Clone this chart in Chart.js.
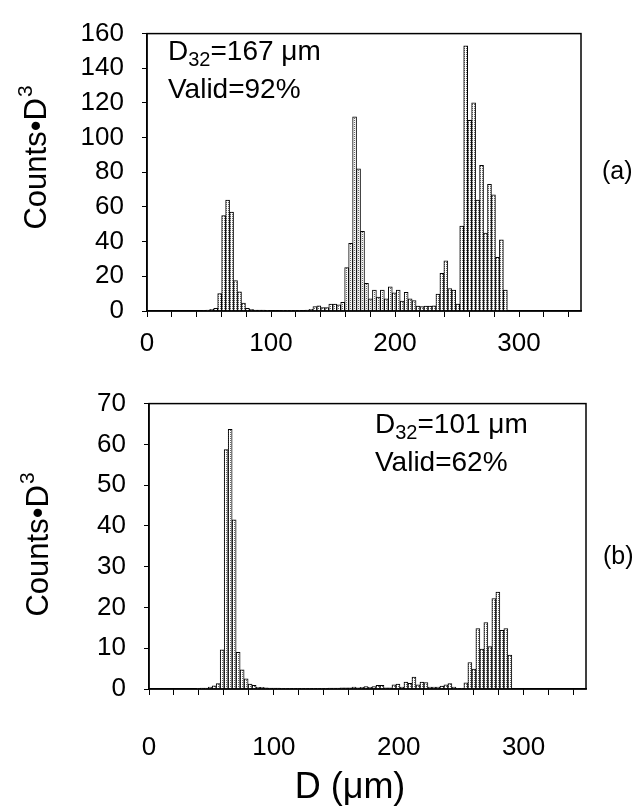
<!DOCTYPE html>
<html>
<head>
<meta charset="utf-8">
<script src="https://cdn.jsdelivr.net/npm/chart.js@4.4.0/dist/chart.umd.min.js"></script>
<style>
  html, body { margin: 0; padding: 0; background: #fff; }
  #wrap { position: relative; width: 639px; height: 806px; }
  canvas { position: absolute; left: 0; }
  #chartA { top: 0; }
  #chartB { top: 370px; }
</style>
</head>
<body>
<div id="wrap">
  <canvas id="chartA" width="639" height="370"></canvas>
  <canvas id="chartB" width="639" height="436"></canvas>
</div>
<script>
// bin centres in um (bin width 3.2 um)
const binCenters = [
  36.2, 39.4, 42.6, 45.8, 49.0, 52.2, 55.4, 58.6, 61.8, 65.0,
  68.2, 71.4, 74.6, 77.8, 81.0, 84.2, 87.4, 90.6, 93.8, 97.0,
  100.2, 103.4, 106.6, 109.8, 113.0, 116.2, 119.4, 122.6, 125.8, 129.0,
  132.2, 135.4, 138.6, 141.8, 145.0, 148.2, 151.4, 154.6, 157.8, 161.0,
  164.2, 167.4, 170.6, 173.8, 177.0, 180.2, 183.4, 186.6, 189.8, 193.0,
  196.2, 199.4, 202.6, 205.8, 209.0, 212.2, 215.4, 218.6, 221.8, 225.0,
  228.2, 231.4, 234.6, 237.8, 241.0, 244.2, 247.4, 250.6, 253.8, 257.0,
  260.2, 263.4, 266.6, 269.8, 273.0, 276.2, 279.4, 282.6, 285.8, 289.0
];

// (a) Counts*D^3
const countsA = [
  0, 0, 0, 0.3, 0.5, 1, 1.5, 10, 55, 64,
  57, 17.5, 11, 4.6, 1.5, 1, 0.5, 0.5, 0.5, 0.4,
  0.3, 0.3, 0.3, 0.2, 0.2, 0.2, 0.2, 0.2, 0.3, 0.5,
  1, 2.5, 3, 2, 2, 4, 4, 3.5, 5, 25,
  39, 112, 82, 46, 16, 7, 12, 8, 12, 7,
  14, 10.5, 12, 5.7, 10.7, 7, 6, 2.8, 2.5, 2.8,
  2.8, 3, 9.7, 21.7, 29, 13, 12, 4, 49, 153,
  110, 120, 64, 84, 45, 73, 67, 31, 41, 12
];

// (b) Counts*D^3
const countsB = [
  0, 0.1, 0.2, 0.2, 0.5, 0.8, 1.3, 9.6, 58.7, 63.7,
  41.5, 9, 4.7, 2.5, 1.2, 0.9, 0.4, 0.4, 0.3, 0.2,
  0.2, 0.2, 0.1, 0.1, 0.1, 0.1, 0.1, 0.1, 0.1, 0.1,
  0.1, 0.1, 0.1, 0.1, 0.2, 0.2, 0.2, 0.3, 0.3, 0.3,
  0.5, 0.3, 0.4, 0.6, 0.4, 0.6, 0.9, 0.9, 0.3, 0.3,
  1.0, 1.2, 0.5, 1.7, 1.4, 2.9, 1.0, 1.7, 1.6, 0.5,
  0.5, 0.5, 0.7, 1.0, 1.3, 0.5, 0.1, 0.1, 1.5, 6.5,
  4.9, 14.8, 9.8, 16.3, 10.4, 22.2, 23.8, 14.4, 14.8, 8.3
];

const xLabelValues = [0, 100, 200, 300];
const FONT = '"Liberation Sans", Arial, Helvetica, sans-serif';

// dotted vertical hatching like the printed bars
function hatch() {
  const c = document.createElement('canvas');
  c.width = 2; c.height = 2;
  const g = c.getContext('2d');
  g.fillStyle = '#fff';
  g.fillRect(0, 0, 2, 2);
  g.fillStyle = '#6a6a6a';
  g.fillRect(0, 0, 1, 1);
  return g.createPattern(c, 'repeat');
}

const frame = {
  id: 'frame',
  afterDraw(chart) {
    const a = chart.chartArea, ctx = chart.ctx;
    ctx.save();
    ctx.strokeStyle = '#000';
    ctx.lineWidth = 1.5;
    ctx.strokeRect(a.left, a.top, a.right - a.left, a.bottom - a.top);
    ctx.restore();
  }
};

function sub(ctx, x, y, main, low, rest) {
  ctx.font = '28px ' + FONT;
  ctx.fillText(main, x, y);
  x += ctx.measureText(main).width;
  ctx.font = '20px ' + FONT;
  ctx.fillText(low, x, y + 6);
  x += ctx.measureText(low).width;
  ctx.font = '28px ' + FONT;
  ctx.fillText(rest, x, y);
}

// rotated "Counts•D" with a raised 3
function yTitle(ctx, cx, cy) {
  ctx.save();
  ctx.translate(cx, cy);
  ctx.rotate(-Math.PI / 2);
  ctx.textBaseline = 'alphabetic';
  ctx.font = '31px ' + FONT;
  const main = 'Counts\u2022D';
  const w1 = ctx.measureText(main).width;
  ctx.font = '21px ' + FONT;
  const w2 = ctx.measureText('3').width;
  let x = -(w1 + w2) / 2;
  ctx.font = '31px ' + FONT;
  ctx.fillText(main, x, 11);
  ctx.font = '21px ' + FONT;
  ctx.fillText('3', x + w1 + 1, -3);
  ctx.restore();
}

function textPlugin(draw) {
  return {
    id: 'panelText',
    afterDraw(chart) {
      const ctx = chart.ctx;
      ctx.save();
      ctx.fillStyle = '#000';
      ctx.textBaseline = 'alphabetic';
      draw(ctx);
      ctx.restore();
    }
  };
}

function makeChart(id, counts, yMax, yStep, area, xPad, extra) {
  const canvas = document.getElementById(id);
  const W = canvas.width, H = canvas.height;
  return new Chart(canvas.getContext('2d'), {
    type: 'bar',
    data: {
      datasets: [{
        data: binCenters.map((x, i) => ({ x: x, y: counts[i] })),
        backgroundColor: hatch(),
        borderColor: '#000',
        borderWidth: 1,
        barPercentage: 1,
        categoryPercentage: 1
      }]
    },
    options: {
      responsive: false,
      animation: false,
      devicePixelRatio: 1,
      layout: { padding: { top: area.top, right: W - area.right, left: 0, bottom: 0 } },
      plugins: { legend: { display: false }, tooltip: { enabled: false } },
      scales: {
        x: {
          type: 'linear',
          min: 0,
          max: 350,
          offset: false,
          afterFit: s => { s.height = H - area.bottom; },
          grid: { display: true, offset: false, drawOnChartArea: false, tickLength: 6, color: '#000' },
          border: { display: true, color: '#000', width: 1.5 },
          ticks: {
            stepSize: 20,
            includeBounds: false,
            autoSkip: false,
            maxRotation: 0,
            padding: xPad,
            color: '#000',
            font: { family: FONT, size: 26 },
            callback: v => xLabelValues.includes(v) ? String(v) : ''
          }
        },
        y: {
          min: 0,
          max: yMax,
          afterFit: s => { s.width = area.left; },
          grid: { display: true, drawOnChartArea: false, tickLength: 5, color: '#000' },
          border: { display: true, color: '#000', width: 1.5 },
          ticks: {
            stepSize: yStep,
            padding: 18,
            color: '#000',
            font: { family: FONT, size: 26 }
          }
        }
      }
    },
    plugins: [frame, textPlugin(extra)]
  });
}

makeChart('chartA', countsA, 160, 20,
  { left: 147, right: 581, top: 21, bottom: 311 }, 11,
  ctx => {
    sub(ctx, 168, 60, 'D', '32', '=167 \u03bcm');
    ctx.font = '28px ' + FONT;
    ctx.fillText('Valid=92%', 168, 98);
    ctx.font = '25px ' + FONT;
    ctx.fillText('(a)', 602, 179);
    yTitle(ctx, 35, 158);
  });

makeChart('chartB', countsB, 70, 10,
  { left: 149, right: 586, top: 28, bottom: 319 }, 37,
  ctx => {
    sub(ctx, 375, 63, 'D', '32', '=101 \u03bcm');
    ctx.font = '28px ' + FONT;
    ctx.fillText('Valid=62%', 375, 101);
    ctx.font = '25px ' + FONT;
    ctx.fillText('(b)', 603, 194);
    yTitle(ctx, 37, 175);
    ctx.font = '36px ' + FONT;
    ctx.textAlign = 'center';
    ctx.fillText('D (\u03bcm)', 350, 428);
  });
</script>
</body>
</html>
